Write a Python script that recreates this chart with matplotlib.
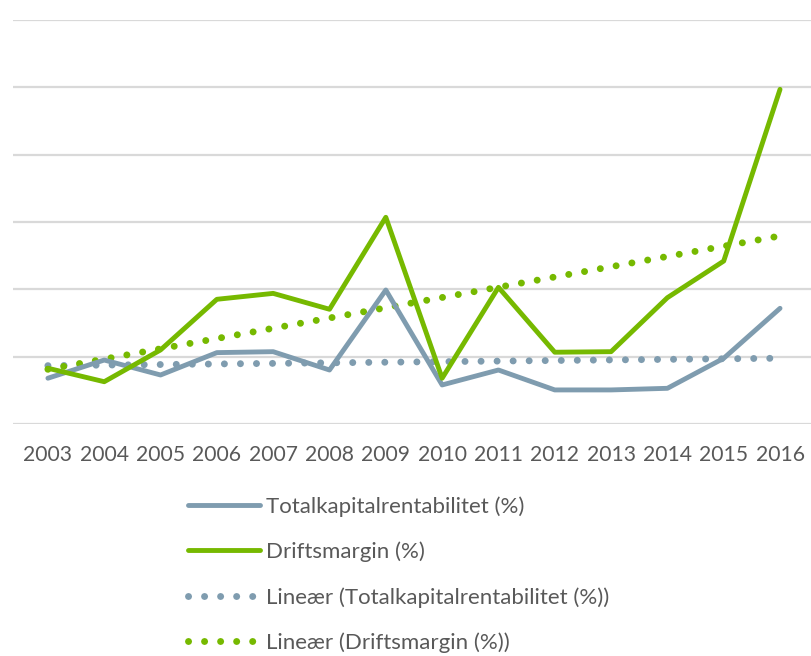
import numpy as np
import matplotlib
matplotlib.use('Agg')
import matplotlib.pyplot as plt

plt.rcParams['font.family'] = ['Lato', 'DejaVu Sans']

years = list(range(2003, 2017))
totalkapital = [-1.6, -0.25, -1.36, 0.3, 0.37, -0.99, 4.95, -2.1, -0.99, -2.47, -2.47, -2.35, -0.12, 3.59]
driftsmargin = [-0.86, -1.86, 0.5, 4.26, 4.7, 3.52, 10.35, -1.6, 5.15, 0.33, 0.37, 4.38, 7.1, 19.85]
labels = ['Totalkapitalrentabilitet (%)', 'Driftsmargin (%)',
          'Lineær (Totalkapitalrentabilitet (%))', 'Lineær (Driftsmargin (%))']

BLUE = '#7F9CAF'
GREEN = '#76B900'
TEXT = '#595959'

W, H = 811, 656
fig = plt.figure(figsize=(W / 100, H / 100), dpi=100)
ax = fig.add_axes([13 / W, (H - 424) / H, (W - 13) / W, 404 / H])

x = np.array(years)
lw = 3.5
ax.plot(x, totalkapital, color=BLUE, lw=lw, solid_capstyle='round', clip_on=False, zorder=3, label=labels[0])
ax.plot(x, driftsmargin, color=GREEN, lw=lw, solid_capstyle='round', clip_on=False, zorder=3, label=labels[1])

# linear trend lines
tlw = 5.0
for vals, col, lab in [(totalkapital, BLUE, labels[2]), (driftsmargin, GREEN, labels[3])]:
    k, m = np.polyfit(x, vals, 1)
    ax.plot(x, k * x + m, color=col, lw=tlw, linestyle=(0, (0.01, 2.3)),
            dash_capstyle='round', clip_on=False, zorder=2, label=lab)

ax.set_xlim(2003 - 0.62, 2016 + 0.55)
ax.set_ylim(-5, 25)
ax.set_yticks(range(-5, 30, 5))
ax.set_yticklabels([])
ax.set_xticks(years)
ax.set_xticklabels([str(y) for y in years])
ax.tick_params(axis='x', length=0, pad=15, labelsize=15.2, labelcolor=TEXT)
ax.tick_params(axis='y', length=0)
ax.grid(axis='y', color='#D9D9D9', lw=1.6)
ax.set_axisbelow(True)
for s in ax.spines.values():
    s.set_visible(False)

leg = fig.legend(loc='upper left', bbox_to_anchor=(188 / W, 1 - 496 / H), frameon=False,
                 fontsize=16, handlelength=3.24, handletextpad=0.27, labelspacing=1.12,
                 borderaxespad=0, borderpad=0)
for t in leg.get_texts():
    t.set_color(TEXT)

fig.savefig('out.png', dpi=100)
